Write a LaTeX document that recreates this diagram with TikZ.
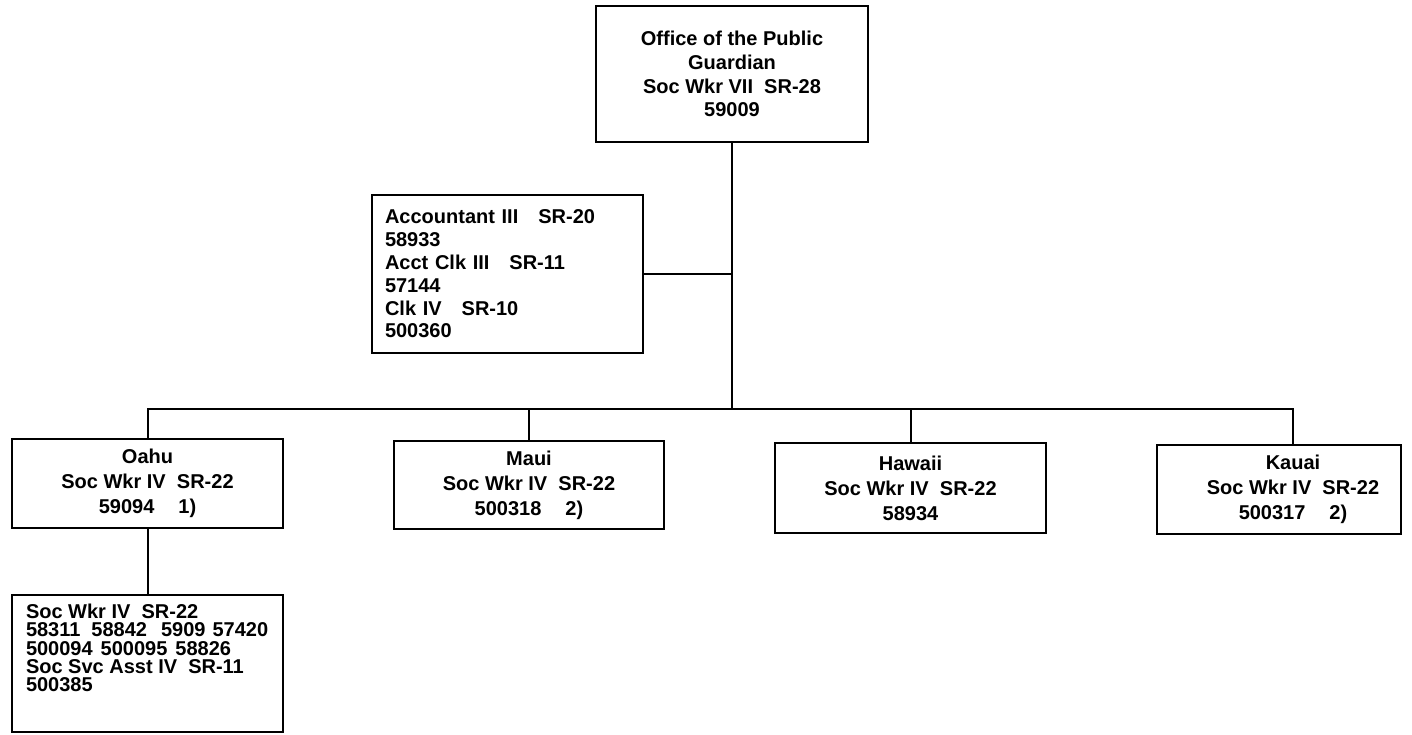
\documentclass[tikz,border=0pt]{standalone}
\usepackage{fontspec}
\setmainfont{Liberation Sans}
\begin{document}
\begin{tikzpicture}[x=1pt,y=-1pt,
  every node/.style={inner sep=0pt, outer sep=0pt},
  unitbox/.style={draw, line width=2.3pt},
  link/.style={draw, line width=2pt},
  txt/.style={font=\fontsize{20}{#1}\selectfont\bfseries},
  txt/.default=23.5]
\useasboundingbox (0,0) rectangle (1412,734);

% head of office
\node[unitbox, txt=23.7, align=center, minimum width=272pt, minimum height=136pt]
  (top) at (732,74)
  {Office of the Public\\Guardian\\Soc Wkr VII\ \ SR-28\\59009};

% staff box
\node[unitbox, txt=22.8, align=left, inner xsep=13pt, text width=245pt, minimum height=158pt]
  (acct) at (507.5,274)
  {Accountant III\ \ \ SR-20\\58933\\Acct Clk III\ \ \ SR-11\\57144\\Clk IV\ \ \ SR-10\\500360};

% island branches
\node[unitbox, txt=25, align=center, minimum width=271pt, minimum height=89pt]
  (oahu) at (147.5,483.5)
  {Oahu\\Soc Wkr IV\ \ SR-22\\59094\hspace{24pt}1)};
\node[unitbox, txt=25, align=center, minimum width=270pt, minimum height=88pt]
  (maui) at (529,485)
  {Maui\\Soc Wkr IV\ \ SR-22\\500318\hspace{24pt}2)};
\node[unitbox, txt=25, align=center, minimum width=271pt, minimum height=90pt]
  (hawaii) at (910.5,488)
  {Hawaii\\Soc Wkr IV\ \ SR-22\\58934};
\node[unitbox, minimum width=244pt, minimum height=89pt]
  (kauai) at (1279,489.5) {};
\node[txt=25, align=center] (kauaitext) at (1293,489.5)
  {Kauai\\Soc Wkr IV\ \ SR-22\\500317\hspace{24pt}2)};

% Oahu staff
\node[unitbox, minimum width=271pt, minimum height=137pt]
  (detail) at (147.5,663.5) {};
\node[txt=18.3, align=left, anchor=north west] (detailtext) at (26,604)
  {Soc Wkr IV\ \ SR-22\\58311\hspace{11pt}58842\hspace{14pt}5909\hspace{7pt}57420\\500094\hspace{8pt}500095\hspace{8pt}58826\\Soc Svc Asst IV\ \ SR-11\\500385};

% connectors
\coordinate (bus) at (0,409);
\coordinate (kdrop) at (1293,445);
\draw[link] (top.south) -- (top.south |- bus);
\draw[link] (acct.east) -- (acct.east -| top.south);
\draw[link] (oahu.north) -- (oahu.north |- bus) -- (kdrop |- bus) -- (kdrop);
\draw[link] (maui.north) -- (maui.north |- bus);
\draw[link] (hawaii.north) -- (hawaii.north |- bus);
\draw[link] (oahu.south) -- (detail.north);
\end{tikzpicture}
\end{document}
